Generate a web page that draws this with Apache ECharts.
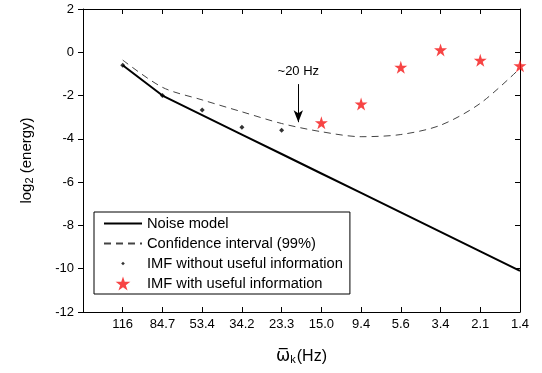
<!DOCTYPE html>
<html>
<head>
<meta charset="utf-8">
<script src="https://cdn.jsdelivr.net/npm/echarts@6/dist/echarts.min.js"></script>
<style>
  html, body { margin: 0; padding: 0; background: #fff; }
  #chart { width: 542px; height: 373px; }
</style>
</head>
<body>
<div id="chart"></div>
<script>
// tick labels along x (mean IMF frequency, Hz), positions 1..11
const xLabels = ['116', '84.7', '53.4', '34.2', '23.3', '15.0', '9.4', '5.6', '3.4', '2.1', '1.4']
const noiseModel = [-0.6, -2.0, -2.9, -3.8, -4.7, -5.6, -6.5, -7.4, -8.3, -9.2, -10.1]
const confidence = [-0.36, -1.62, -2.2, -2.75, -3.29, -3.67, -3.9, -3.8, -3.37, -2.36, -0.74]
// IMFs without useful information: positions 1..5
const noUseful = [-0.6, -2.0, -2.67, -3.46, -3.6]
// IMFs with useful information: positions 6..11
const useful = [-3.26, -2.39, -0.69, 0.11, -0.37, -0.62]

const font = 'Liberation Sans, Arial, sans-serif'
const star = 'path://M50,0 L61.2,34.5 L97.6,34.5 L68.2,55.9 L79.4,90.5 L50,69.1 L20.6,90.5 L31.8,55.9 L2.4,34.5 L38.8,34.5 Z'
const smallDot = 'path://M0,0 M14,14 M7,5.2 L8.8,7 L7,8.8 L5.2,7 Z'

const toPairs = (arr, start) => arr.map((v, i) => [i + start, v])

const chart = echarts.init(document.getElementById('chart'))
chart.setOption({
  animation: false,
  textStyle: { fontFamily: font },
  grid: { left: 83, right: 22, top: 9, bottom: 61 },
  legend: {
    orient: 'vertical',
    left: 94,
    top: 212,
    padding: [4, 7, 3, 9],
    borderColor: '#000',
    borderWidth: 1,
    itemWidth: 38,
    itemHeight: 14,
    itemGap: 5,
    textStyle: { fontSize: 14.7, color: '#000', fontFamily: font },
    data: [
      { name: 'Noise model', itemStyle: { opacity: 0 } },
      { name: 'Confidence interval (99%)', itemStyle: { opacity: 0 } },
      { name: 'IMF without useful information', icon: smallDot },
      { name: 'IMF with useful information' }
    ]
  },
  xAxis: [
    {
      type: 'value',
      min: 0,
      max: 11,
      interval: 1,
      name: '{w|ω\u0305}{k|k}{n|(Hz)}',
      nameLocation: 'middle',
      nameGap: 36,
      nameTextStyle: {
        rich: {
          w: { fontSize: 17, color: '#000', fontFamily: 'DejaVu Sans' },
          k: { fontSize: 11, color: '#000', fontFamily: font, verticalAlign: 'bottom', padding: [6, 1, 0, 0] },
          n: { fontSize: 16, color: '#000', fontFamily: font }
        }
      },
      axisLine: { onZero: false, lineStyle: { color: '#000', width: 1 } },
      axisTick: { inside: true, length: 5, lineStyle: { color: '#000' } },
      axisLabel: {
        fontSize: 13,
        color: '#000',
        margin: 6,
        formatter: (v) => xLabels[v - 1] || ''
      },
      splitLine: { show: false }
    },
    {
      type: 'value',
      position: 'top',
      min: 0,
      max: 11,
      interval: 1,
      axisLine: { onZero: false, lineStyle: { color: '#000', width: 1 } },
      axisTick: { inside: true, length: 5, lineStyle: { color: '#000' } },
      axisLabel: { show: false },
      splitLine: { show: false }
    }
  ],
  yAxis: [
    {
      type: 'value',
      min: -12,
      max: 2,
      interval: 2,
      name: '{a|log}{s|2}{a| (energy)}',
      nameLocation: 'middle',
      nameGap: 48,
      nameTextStyle: {
        rich: {
          a: { fontSize: 15, color: '#000', fontFamily: font },
          s: { fontSize: 11, color: '#000', fontFamily: font, verticalAlign: 'bottom', padding: [6, 0, 0, 0] }
        }
      },
      axisLine: { onZero: false, lineStyle: { color: '#000', width: 1 } },
      axisTick: { inside: false, length: 5, lineStyle: { color: '#000' } },
      axisLabel: { fontSize: 13, color: '#000', margin: 9 },
      splitLine: { show: false }
    },
    {
      type: 'value',
      position: 'right',
      min: -12,
      max: 2,
      interval: 2,
      axisLine: { onZero: false, lineStyle: { color: '#000', width: 1 } },
      axisTick: { inside: true, length: 5, lineStyle: { color: '#000' } },
      axisLabel: { show: false },
      splitLine: { show: false }
    }
  ],
  series: [
    {
      name: 'Noise model',
      type: 'line',
      data: toPairs(noiseModel, 1),
      symbol: 'none',
      lineStyle: { color: '#000', width: 2 },
      itemStyle: { color: '#000' },
      z: 3
    },
    {
      name: 'Confidence interval (99%)',
      type: 'line',
      data: toPairs(confidence, 1),
      symbol: 'none',
      smooth: 0.3,
      lineStyle: { color: '#444', width: 1, type: [7, 5] },
      itemStyle: { color: '#444' },
      z: 2
    },
    {
      name: 'IMF without useful information',
      type: 'scatter',
      data: toPairs(noUseful, 1),
      symbol: 'diamond',
      symbolSize: 5,
      itemStyle: { color: '#000' },
      z: 4,
      markLine: {
        silent: true,
        symbol: ['none', 'arrow'],
        symbolSize: [7, 12],
        lineStyle: { color: '#000', width: 1, type: 'solid' },
        label: {
          show: true,
          position: 'start',
          formatter: '~20 Hz',
          fontSize: 13,
          color: '#000',
          fontFamily: font,
          distance: 6
        },
        data: [[{ coord: [5.42, -1.47] }, { coord: [5.42, -3.23] }]]
      }
    },
    {
      name: 'IMF with useful information',
      type: 'scatter',
      data: toPairs(useful, 6),
      symbol: star,
      symbolSize: 13,
      itemStyle: { color: '#f51515' },
      z: 5
    }
  ]
})
</script>
</body>
</html>
